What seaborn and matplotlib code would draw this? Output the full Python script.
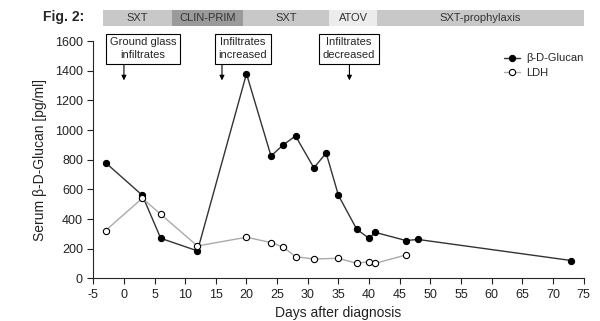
import numpy as np
import pandas as pd
import matplotlib
matplotlib.use('Agg')
import matplotlib.pyplot as plt
import matplotlib.transforms as mtransforms
import seaborn as sns

# ---------------------- 数据 ----------------------
glucan_days = [-3, 3, 6, 12, 20, 24, 26, 28, 31, 33, 35, 38, 40, 41, 46, 48, 73]
glucan_vals = [780, 560, 270, 185, 1380, 825, 900, 960, 745, 845, 560, 330, 270, 310, 255, 262, 120]

ldh_days = [-3, 3, 6, 12, 20, 24, 26, 28, 31, 35, 38, 40, 41, 46]
ldh_vals = [322, 540, 432, 218, 277, 241, 211, 146, 130, 135, 101, 112, 101, 157]

# 治疗阶段（起止天数）
therapy_names = ['SXT', 'CLIN-PRIM', 'SXT', 'ATOV', 'SXT-prophylaxis']
therapy_start = [-3.4, 7.8, 19.5, 33.5, 41.3]
therapy_end = [7.8, 19.5, 33.5, 41.3, 75]
therapy_colors = ['#c8c8c8', '#9a9a9a', '#c8c8c8', '#ececec', '#c8c8c8']

# 影像学事件
event_labels = ['Ground glass\ninfiltrates', 'Infiltrates\nincreased', 'Infiltrates\ndecreased']
event_days = [0, 16, 36.8]
event_box_x = [3.1, 19.4, 36.7]

x_ticks = list(range(-5, 80, 5))
y_ticks = list(range(0, 1800, 200))

# ---------------------- 绘图 ----------------------
sns.set_style('ticks')
plt.rcParams['font.family'] = ['Liberation Sans', 'DejaVu Sans']
plt.rcParams['axes.unicode_minus'] = False

fig = plt.figure(figsize=(6, 3.21), dpi=100)
ax = fig.add_axes([0.1555, 0.133, 0.817, 0.739])

sns.lineplot(x=glucan_days, y=glucan_vals, ax=ax, color='#333333', lw=1,
             marker='o', markersize=4.5, markerfacecolor='black', markeredgecolor='black',
             label='β-D-Glucan')
sns.lineplot(x=ldh_days, y=ldh_vals, ax=ax, color='#aaaaaa', lw=1,
             marker='o', markersize=4.5, markerfacecolor='white', markeredgecolor='black',
             markeredgewidth=0.8, label='LDH')

ax.set_xlim(-5, 75)
ax.set_ylim(0, 1600)
ax.set_xticks(x_ticks)
ax.set_yticks(y_ticks)
ax.tick_params(labelsize=9, direction='out', length=4, width=0.8, colors='#222222')
for s in ['top', 'right']:
    ax.spines[s].set_visible(False)
for s in ['left', 'bottom']:
    ax.spines[s].set_linewidth(0.8)
ax.set_xlabel('Days after diagnosis', fontsize=10, color='#222222')
ax.set_ylabel('Serum β-D-Glucan [pg/ml]', fontsize=10, color='#222222', labelpad=6)

# 治疗条
trans = mtransforms.blended_transform_factory(ax.transData, ax.transAxes)
for name, x0, x1, c in zip(therapy_names, therapy_start, therapy_end, therapy_colors):
    ax.add_patch(plt.Rectangle((x0, 1.064), x1 - x0, 0.066, transform=trans,
                               facecolor=c, edgecolor='none', clip_on=False))
    ax.text((x0 + x1) / 2, 1.097, name, transform=trans, ha='center', va='center',
            fontsize=8, color='#333333')
fig.text(0.071, 0.947, 'Fig. 2:', fontsize=10, fontweight='bold', ha='left', va='center')

# 事件框和箭头
for lab, d, bx in zip(event_labels, event_days, event_box_x):
    ax.text(bx, 1549, lab, ha='center', va='center', fontsize=8, linespacing=1.3,
            bbox=dict(boxstyle='square,pad=0.35', fc='white', ec='black', lw=0.8),
            clip_on=False)
    ax.annotate('', xy=(d, 1335), xytext=(d, 1441), annotation_clip=False,
                arrowprops=dict(arrowstyle='-|>', color='black', lw=0.8,
                                mutation_scale=7, shrinkA=0, shrinkB=0))

ax.legend(loc='upper right', bbox_to_anchor=(1.02, 0.99), frameon=False, fontsize=8,
          handlelength=1.5, handletextpad=0.5, labelspacing=0.4)

plt.savefig('out.png', dpi=100)
